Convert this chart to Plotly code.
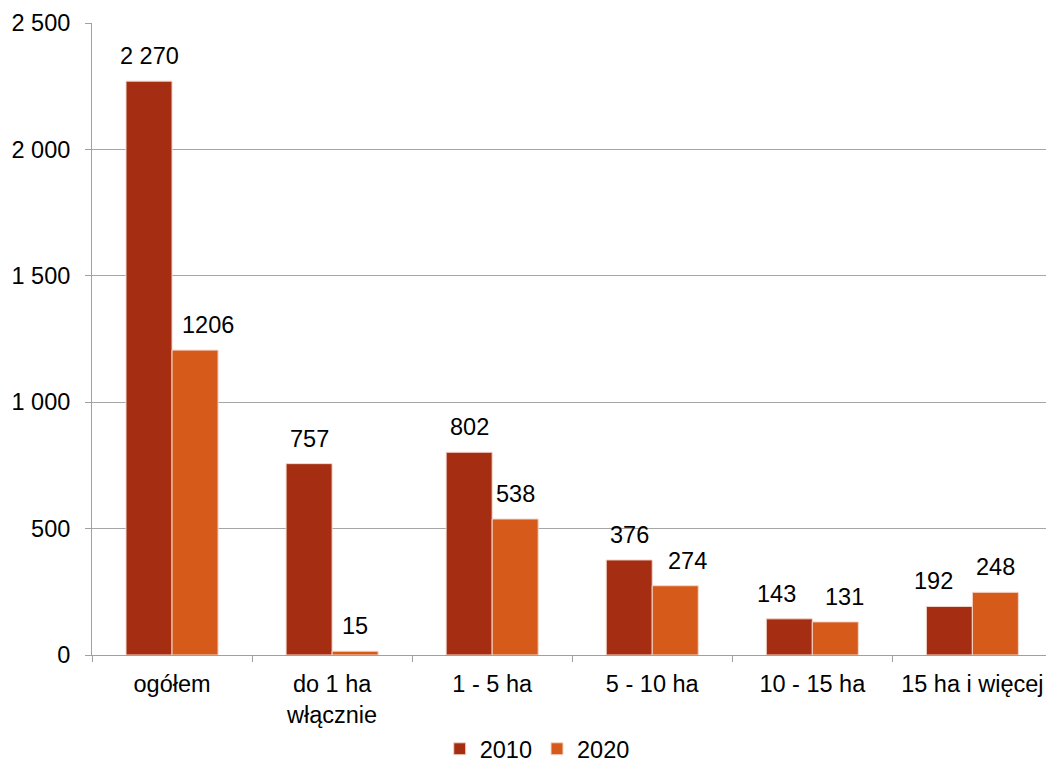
import plotly.graph_objects as go

categories = ["ogółem", "do 1 ha<br>włącznie", "1 - 5 ha", "5 - 10 ha", "10 - 15 ha", "15 ha i więcej"]
values_2010 = [2270, 757, 802, 376, 143, 192]
values_2020 = [1206, 15, 538, 274, 131, 248]
labels_2010 = ["2 270", "757", "802", "376", "143", "192"]
labels_2020 = ["1206", "15", "538", "274", "131", "248"]
y_ticks = [0, 500, 1000, 1500, 2000, 2500]
y_ticktext = ["0", "500", "1 000", "1 500", "2 000", "2 500"]

C2010 = "#A52E12"
C2020 = "#D65A1A"
FONT = "Liberation Sans, Arial, sans-serif"
FS = 23.5
BAR_HALF_PX = 23  # half of a bar's on-screen width, for placing labels above each bar

# hand-placed label nudges seen in the original (pixels, horizontal)
LABEL_NUDGE = {
    ("2020", 0): 13,
    ("2020", 3): 12,
    ("2010", 4): -13,
    ("2020", 4): 9,
    ("2010", 5): -16,
}

fig = go.Figure()
fig.add_trace(go.Bar(name="2010", x=categories, y=values_2010, marker_color=C2010,
                     marker_line=dict(color="#F4D8CC", width=1)))
fig.add_trace(go.Bar(name="2020", x=categories, y=values_2020, marker_color=C2020,
                     marker_line=dict(color="#F4D8CC", width=1)))

annotations = []
for series, sign, vals, labs in (("2010", -1, values_2010, labels_2010),
                                 ("2020", 1, values_2020, labels_2020)):
    for i, (cat, v, t) in enumerate(zip(categories, vals, labs)):
        annotations.append(dict(x=cat, y=v, text=t, xref="x", yref="y", showarrow=False,
                                xshift=sign * BAR_HALF_PX + LABEL_NUDGE.get((series, i), 0),
                                yshift=10, yanchor="bottom",
                                font=dict(family=FONT, size=FS, color="#000")))

fig.update_layout(
    width=1046, height=771,
    margin=dict(l=92, r=0, t=23, b=116, autoexpand=False),
    paper_bgcolor="white", plot_bgcolor="white",
    barmode="group", bargap=0.425, bargroupgap=0,
    font=dict(family=FONT, size=FS, color="#000"),
    annotations=annotations,
    showlegend=True,
    legend=dict(orientation="h", xref="container", yref="container",
                x=0.5136, xanchor="center", y=-0.01, yanchor="bottom",
                font=dict(size=FS), itemwidth=30, traceorder="normal"),
    xaxis=dict(type="category", range=[-0.5, 5.46], showline=True, linecolor="#A0A0A0",
               linewidth=1, ticks="outside", tickson="boundaries", ticklen=6,
               tickcolor="#A0A0A0", tickfont=dict(size=FS), showgrid=False, automargin=False,
               ticklabelstandoff=8),
    yaxis=dict(range=[0, 2500], tickvals=y_ticks, ticktext=y_ticktext, showgrid=True,
               gridcolor="#A6A6A6", gridwidth=1, showline=True, linecolor="#A0A0A0",
               ticks="outside", ticklen=6, tickcolor="#A0A0A0", tickfont=dict(size=FS),
               zeroline=False, automargin=False, ticklabelstandoff=10),
)

# remove the browser's default 8px body margin so the figure fills the window exactly
fig.write_html("out.html", config={"displayModeBar": False},
               post_script="document.body.style.margin='0';")
